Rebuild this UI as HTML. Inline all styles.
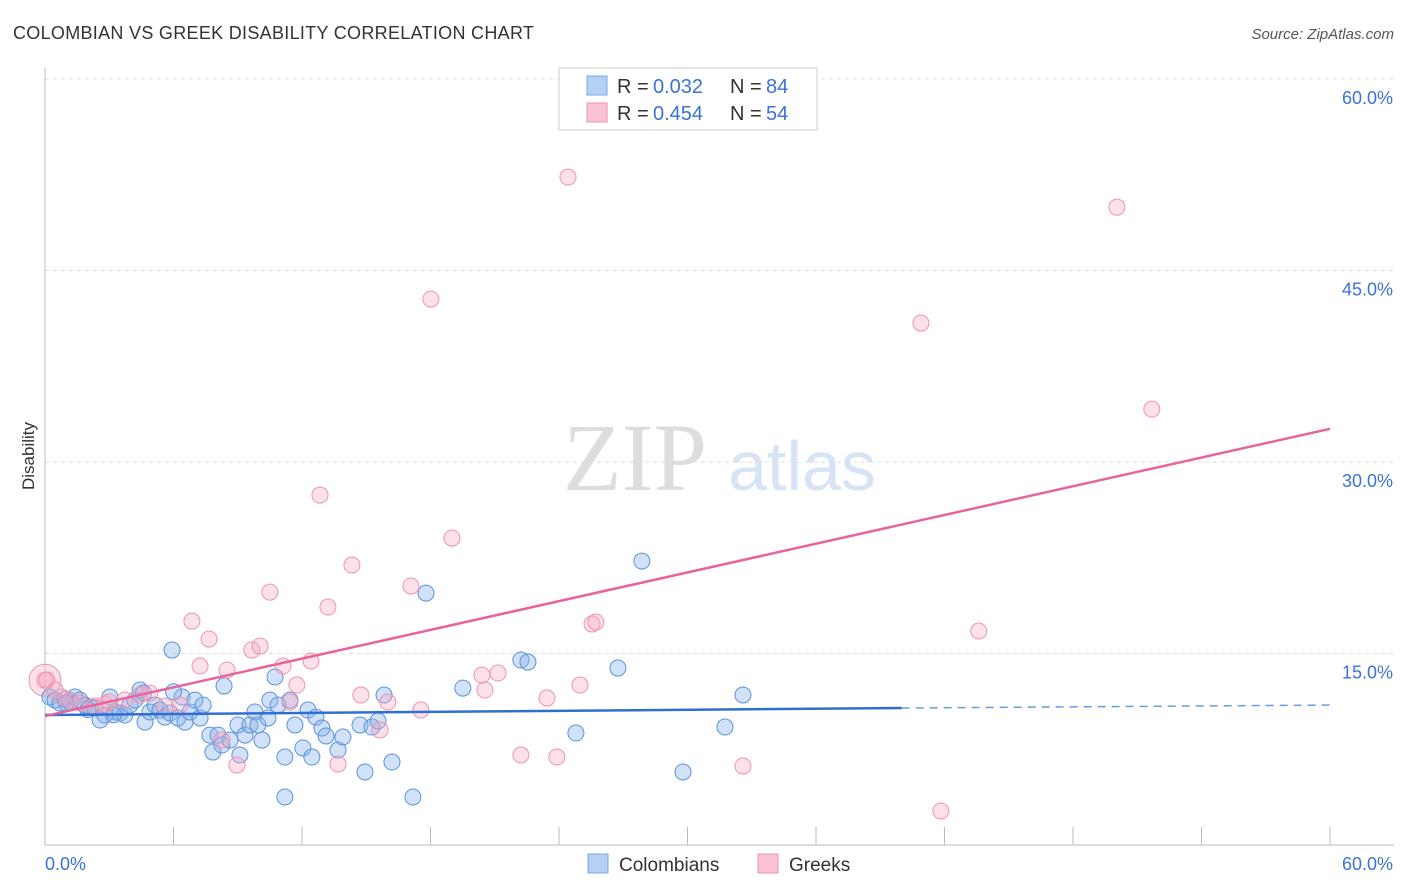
<!DOCTYPE html>
<html><head><meta charset="utf-8"><style>
body{margin:0;background:#fff;font-family:"Liberation Sans",sans-serif;}
svg{display:block}
</style></head><body>
<svg id="c" width="1406" height="892" xmlns="http://www.w3.org/2000/svg">
<text x="13" y="39" font-size="18" fill="#333" letter-spacing="0.3">COLOMBIAN VS GREEK DISABILITY CORRELATION CHART</text>
<text x="1394" y="39" font-size="15" fill="#555" font-style="italic" text-anchor="end">Source: ZipAtlas.com</text>
<text x="34" y="456" font-size="17" fill="#333" text-anchor="middle" transform="rotate(-90 34 456)">Disability</text>
<g>
<text x="635" y="490" font-size="96" fill="#ddd" font-family="Liberation Serif" text-anchor="middle">ZIP</text>
<text x="802" y="490" font-size="70" fill="#d6e4f5" text-anchor="middle">atlas</text></g>
<g id="grid"></g><g id="marks"></g>
<g>
<rect x="559" y="68" width="258" height="62" fill="#fff" stroke="#ccc"/>
<rect x="587" y="76" width="20" height="19" fill="#b5d0f3" stroke="#7aa7e3"/>
<rect x="587" y="103" width="20" height="19" fill="#f9c3d3" stroke="#ee93b0"/>
<text x="617" y="93" font-size="20" fill="#333">R =</text>
<text x="653" y="93" font-size="20" fill="#3a72d8">0.032</text>
<text x="730" y="93" font-size="20" fill="#333">N =</text>
<text x="766" y="93" font-size="20" fill="#3a72d8">84</text>
<text x="617" y="120" font-size="20" fill="#333">R =</text>
<text x="653" y="120" font-size="20" fill="#3a72d8">0.454</text>
<text x="730" y="120" font-size="20" fill="#333">N =</text>
<text x="766" y="120" font-size="20" fill="#3a72d8">54</text>
</g>
<g>
<rect x="588" y="854" width="20" height="19" fill="#b5d0f3" stroke="#7aa7e3"/>
<text x="619" y="871" font-size="19" fill="#333">Colombians</text>
<rect x="758" y="854" width="20" height="19" fill="#f9c3d3" stroke="#ee93b0"/>
<text x="789" y="871" font-size="19" fill="#333">Greeks</text>
</g>
</svg>
<script>
const yTicks=[15,30,45,60];
const yTickLabels=["15.0%","30.0%","45.0%","60.0%"];
const blueX=[0.23,0.47,0.70,0.93,1.17,1.40,1.63,1.87,2.10,2.33,2.57,2.80,3.03,3.27,3.50,3.73,3.97,4.20,4.44,4.67,4.90,5.14,5.37,5.60,5.84,5.93,6.21,6.40,6.54,6.77,7.00,7.24,7.38,7.70,7.84,8.08,8.26,8.36,8.64,9.01,9.10,9.34,9.57,9.80,9.94,10.13,10.41,10.50,10.74,10.88,11.20,11.20,11.44,11.67,12.04,12.28,12.46,12.65,12.93,13.12,13.68,13.91,14.71,14.94,15.27,15.55,15.83,16.20,17.18,17.79,19.51,22.22,22.55,24.79,26.75,27.87,29.79,31.75,32.59,1.0,2.0,3.2,4.6,6.0];
const blueY=[11.59,11.35,11.12,11.43,11.20,11.59,11.35,10.96,10.81,10.73,9.79,10.18,11.59,10.42,10.34,10.18,10.96,11.35,12.14,9.63,10.42,10.96,10.57,10.02,10.34,15.27,9.95,11.59,9.63,10.42,11.35,9.95,10.96,8.61,7.28,8.61,7.83,12.45,8.22,9.40,7.05,8.61,9.40,10.42,9.40,8.22,9.95,11.35,13.16,10.96,6.89,3.76,11.35,9.40,7.60,10.57,6.89,10.02,9.16,8.54,7.44,8.46,9.40,5.72,9.24,9.71,11.75,6.50,3.76,19.73,12.29,14.49,14.33,8.77,13.86,22.24,5.72,9.24,11.75,11.1,10.6,10.2,11.9,12.0];
const pinkX=[0.09,0.47,0.79,1.17,1.63,2.33,2.80,3.73,4.44,4.90,5.60,6.30,6.86,7.24,7.66,8.50,8.96,8.26,9.66,10.04,10.50,11.11,11.44,11.76,12.42,12.84,13.21,13.68,14.33,14.75,15.64,16.01,17.09,17.55,18.02,19.00,20.40,20.54,21.15,22.22,23.44,23.90,24.42,24.98,25.54,25.72,32.59,40.90,41.83,43.60,50.05,51.68,0.0,3.0];
const pinkY=[12.92,12.14,11.59,11.35,11.12,10.88,11.04,11.35,11.75,11.90,10.88,10.96,17.54,14.02,16.13,13.70,6.26,8.22,15.27,15.58,19.81,14.02,11.20,12.53,14.41,27.41,18.64,6.34,21.93,11.75,9.01,11.20,20.28,10.57,42.76,24.04,13.31,12.14,13.47,7.05,11.51,6.89,52.31,12.53,17.31,17.46,6.19,40.88,2.66,16.76,49.96,34.14,12.9,11.2];
const blueTrend=[10.18,10.73,10.96];
const pinkTrend=[10.1,32.6];
const X0=45,X1=1330,Y0=845,Y60=79;
const sx=v=>X0+(X1-X0)*v/60, sy=v=>Y0-(Y0-Y60)*v/60;
const NS="http://www.w3.org/2000/svg";
function mk(t,a,p){const e=document.createElementNS(NS,t);for(const k in a)e.setAttribute(k,a[k]);p.appendChild(e);return e;}
const g=document.getElementById('grid'),m=document.getElementById('marks');
yTicks.forEach((t,i)=>{
 const l=mk('line',{x1:X0,x2:1394,y1:sy(t),y2:sy(t),stroke:'#ddd','stroke-dasharray':'4,4'},g);
 
 
 const tx=mk('text',{x:1393,y:sy(t)+25,'font-size':18,fill:'#3a72d8','text-anchor':'end'},g);
 tx.textContent=yTickLabels[i];
 
 
});
const ax=mk('line',{x1:X0,x2:1394,y1:Y0,y2:Y0,stroke:'#bbb'},g);


const ay=mk('line',{x1:X0,x2:X0,y1:68,y2:Y0,stroke:'#bbb'},g);


for(let i=1;i<=10;i++){const t=mk('line',{x1:sx(i*6),x2:sx(i*6),y1:Y0,y2:Y0-18,stroke:'#bbb'},g);
 
 }
[[0,"0.0%",'start',45],[60,"60.0%",'end',1393]].forEach(a=>{const t=mk('text',{x:a[3],y:870,'font-size':18,fill:'#3a72d8','text-anchor':a[2]},g);t.textContent=a[1];
 
 });
const big=mk('circle',{cx:sx(0),cy:sy(12.9),r:16,fill:'rgba(245,170,195,0.35)',stroke:'#ee93b0'},m);


blueX.forEach((x,i)=>{const c=mk('circle',{cx:sx(x),cy:sy(blueY[i]),r:8,fill:'rgba(140,180,235,0.4)',stroke:'#5b93dd','stroke-width':1},m);
 
 });
pinkX.forEach((x,i)=>{const c=mk('circle',{cx:sx(x),cy:sy(pinkY[i]),r:8,fill:'rgba(245,170,195,0.35)',stroke:'#ee93b0','stroke-width':1},m);
 
 });
const b1=mk('line',{x1:sx(0),y1:sy(blueTrend[0]),x2:sx(40),y2:sy(blueTrend[1]),stroke:'#2f6fd1','stroke-width':2.5},m);


const b2=mk('line',{x1:sx(40),y1:sy(blueTrend[1]),x2:sx(60),y2:sy(blueTrend[2]),stroke:'#6a9be0','stroke-width':1.5,'stroke-dasharray':'8,6'},m);


const p1=mk('line',{x1:sx(0),y1:sy(pinkTrend[0]),x2:sx(60),y2:sy(pinkTrend[1]),stroke:'#e8639a','stroke-width':2.5},m);


</script>
</body></html>
